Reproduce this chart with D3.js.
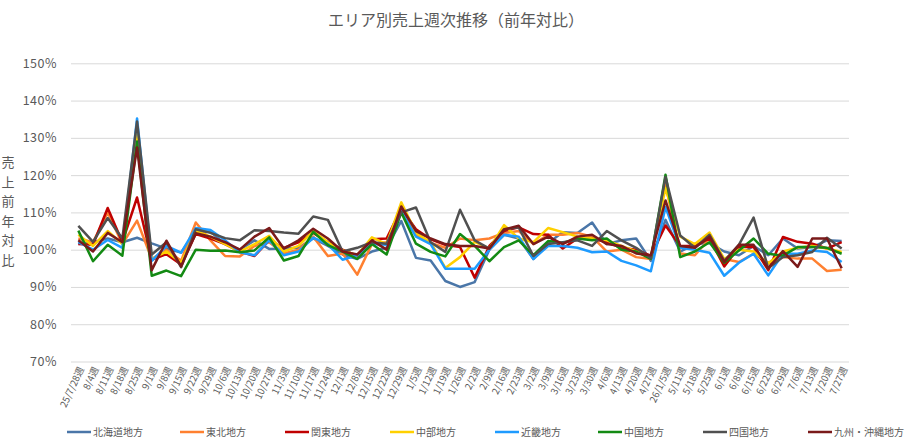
<!DOCTYPE html>
<html>
<head>
<meta charset="utf-8">
<script src="https://cdnjs.cloudflare.com/ajax/libs/d3/7.8.5/d3.min.js"></script>
<style>
  body { margin: 0; background: #fff; }
  text { font-family: "Noto Sans CJK JP", "Noto Sans", sans-serif; fill: #595959; }
</style>
</head>
<body>
<div class="first"></div>
<script>
// week labels along the x axis
const weeks = ['25/7/28週', '8/4週', '8/11週', '8/18週', '8/25週', '9/1週', '9/8週', '9/15週', '9/22週', '9/29週',
  '10/6週', '10/13週', '10/20週', '10/27週', '11/3週', '11/10週', '11/17週', '11/24週', '12/1週', '12/8週',
  '12/15週', '12/22週', '12/29週', '1/5週', '1/12週', '1/19週', '1/26週', '2/2週', '2/9週', '2/16週',
  '2/23週', '3/2週', '3/9週', '3/16週', '3/23週', '3/30週', '4/6週', '4/13週', '4/20週', '4/27週',
  '26/1/5週', '5/11週', '5/18週', '5/25週', '6/1週', '6/8週', '6/15週', '6/22週', '6/29週', '7/6週',
  '7/13週', '7/20週', '7/27週'];

// yoy ratio in % for each area
const hokkaido = [101.5, 102, 103, 102, 103.2, 101.7, 100.3, 99.2, 105, 104.8, 101.5, 100, 102.5, 100.2, 100.3, 100.5, 103, 101, 98.7, 97.5,
  99.5, 100.5, 107.7, 97.8, 97.1, 91.6, 90, 91.3, 100, 104, 103, 97.5, 101.8, 104.7, 104.5, 107.3, 101.5, 102.5, 103, 97,
  108, 99.5, 101.5, 101.8, 99.5, 98.5, 101, 98.5, 103, 100.3, 100.7, 102.5, 102.3];
const tohoku = [103, 102, 110, 101.5, 107.8, 97.5, 100, 97, 107.3, 102.5, 98.3, 98.2, 101, 102, 99, 100, 103.5, 98.3, 99, 93.3,
  101.5, 102, 110.5, 104, 101.8, 100.5, 103, 102.5, 103, 104.5, 105, 101.5, 104, 104, 104.5, 103.5, 99.5, 100, 98, 97.5,
  117.5, 99, 98.5, 103, 97.5, 96.7, 98.9, 96.5, 98, 97.6, 97.6, 94.3, 94.6];
const kanto = [101.5, 101.3, 111.2, 102, 114, 97.3, 98.8, 96, 104.2, 103, 101.5, 99.5, 98.3, 102.5, 100.5, 102, 104.5, 102, 100, 98.3,
  102.8, 103, 111, 105.5, 102.8, 101.3, 100.7, 92.5, 101, 105, 106, 104.2, 104, 100.3, 103, 103, 102, 100.5, 100, 98.3,
  106.5, 101, 101, 103, 95.5, 100.7, 100.7, 94.5, 103.4, 102.1, 101.6, 100.3, 102];
const chubu = [104, 101, 105, 101.5, 131, 97.5, 99.5, 96.5, 105, 103.5, 101.5, 99.5, 101.5, 103.7, 99.5, 101, 105, 102, 99.8, 98.5,
  103.3, 101.5, 112.7, 104.5, 102, 95.1, 98, 102.1, 100.3, 106.6, 103, 102, 105.8, 104.7, 103.5, 103, 102.5, 101, 99.5, 98,
  116.5, 103.5, 101.5, 104.6, 97.5, 100, 99.5, 96.3, 99.5, 100.5, 101, 100.3, 99.4];
const kinki = [102, 100, 102.6, 100.5, 135.2, 97, 101, 99.2, 105.8, 105.3, 102.5, 99.3, 98.5, 102.5, 98.5, 99.5, 103.2, 101.5, 97.3, 98.5,
  101.5, 101.3, 110.2, 103.5, 101.5, 94.9, 94.9, 94.9, 100, 104, 103.5, 97.5, 101, 101, 100.5, 99.3, 99.5, 97, 95.8, 94.2,
  111.4, 100.5, 100, 99.2, 93, 96.5, 98.9, 93.1, 98.9, 98.9, 99.8, 99.4, 96.7];
const chugoku = [105.1, 96.9, 101.3, 98.4, 129, 93, 94.4, 92.9, 100, 99.7, 99.8, 99.3, 99.8, 103.3, 97.1, 98.3, 104.8, 101.2, 99.5, 97.5,
  101.5, 98.7, 110, 101.6, 99.4, 98.2, 104.2, 101, 96.9, 100.7, 102.5, 98.5, 102.3, 101.8, 103, 102.5, 103, 100, 99.5, 97.5,
  120.1, 98, 99.5, 102, 96.5, 99.8, 103, 98.9, 98.4, 100.7, 100.7, 100.5, 98.9];
const shikoku = [106.4, 102.1, 108.5, 103, 134.4, 98.7, 102, 95.3, 105.5, 104.5, 103.1, 102.5, 105.2, 105, 104.6, 104.3, 108.9, 108, 99.5, 100.5,
  102, 101.6, 110, 111.3, 102, 99.4, 110.7, 102.5, 100.3, 105.5, 106, 98.3, 101.5, 102, 102.5, 101, 105, 102.5, 100.5, 97.7,
  119.5, 103.8, 100.5, 104, 97, 101.3, 108.6, 95, 98, 98.5, 99.4, 103.2, 100.3];
const kyushu = [102.5, 99.5, 104.5, 102, 127.4, 94.5, 102.4, 95.5, 104.4, 103.5, 102, 100, 103.5, 105.8, 100.3, 102.5, 105.6, 103, 99.5, 98.7,
  102.5, 100, 111.6, 105, 103, 101.5, 101, 101, 100.3, 105.4, 106.4, 101.5, 103.5, 101.5, 103.5, 104, 101.5, 101, 99, 98.5,
  113.2, 101, 100.5, 103.5, 96.7, 101.3, 101.3, 95, 99.6, 95.4, 103, 103, 95];

const areaNames = ['北海道地方', '東北地方', '関東地方', '中部地方', '近畿地方', '中国地方', '四国地方', '九州・沖縄地方'];
const areaValues = [hokkaido, tohoku, kanto, chubu, kinki, chugoku, shikoku, kyushu];
const yTicks = [70, 80, 90, 100, 110, 120, 130, 140, 150];

document.addEventListener('DOMContentLoaded', () => {
  myVis();
});

function myVis() {
  const width = 910;
  const height = 441;
  const colorRange = ['#4a76a8', '#ff8030', '#c00000', '#ffd000', '#1e9bff', '#138a13', '#505050', '#7a1a1a'];

  const svg = d3.select('.first').append('svg')
    .attr('width', width).attr('height', height);

  const x = d3.scaleBand().domain(weeks).range([71, 849]);
  const y = d3.scaleLinear().domain([70, 150]).range([361.5, 63.3]);
  const color = d3.scaleOrdinal().domain(areaNames).range(colorRange);

  // title
  svg.append('text')
    .attr('x', 456).attr('y', 26)
    .attr('text-anchor', 'middle')
    .attr('font-size', 16)
    .text('エリア別売上週次推移（前年対比）');

  // gridlines + y labels
  const yAxis = svg.append('g')
    .attr('transform', 'translate(71,0)')
    .call(d3.axisLeft(y).tickValues(yTicks).tickSize(-778).tickPadding(14).tickFormat(d => d + '%'));
  yAxis.select('.domain').remove();
  yAxis.selectAll('line').attr('stroke', '#d9d9d9').attr('stroke-width', 1);
  yAxis.selectAll('text')
    .attr('font-size', 12.5)
    .attr('font-family', '"Noto Sans CJK JP", sans-serif')
    .attr('fill', '#595959')
    .style('letter-spacing', '0.5px');

  // y title, stacked vertically
  svg.append('g').selectAll('text')
    .data('売上前年対比'.split(''))
    .enter()
    .append('text')
    .attr('x', 8)
    .attr('y', (d, i) => 167 + i * 19.6)
    .attr('text-anchor', 'middle')
    .attr('font-size', 13)
    .text(d => d);

  // x axis labels
  const xAxis = svg.append('g')
    .attr('transform', 'translate(0,361.5)')
    .call(d3.axisBottom(x).tickSize(0).tickPadding(0));
  xAxis.select('.domain').remove();
  xAxis.selectAll('text')
    .attr('font-size', 9.5)
    .attr('fill', '#6b6b6b')
    .attr('text-anchor', 'end')
    .attr('transform', 'translate(3,6) rotate(-65)')
    .attr('dy', '0.35em');

  // lines
  const line = d3.line()
    .x((d, i) => x(weeks[i]) + x.bandwidth() / 2)
    .y(d => y(d));

  svg.append('g').selectAll('path')
    .data(areaValues)
    .enter()
    .append('path')
    .attr('fill', 'none')
    .attr('stroke', (d, i) => color(areaNames[i]))
    .attr('stroke-width', 2.5)
    .attr('stroke-linejoin', 'round')
    .attr('d', d => line(d));

  // legend
  const legendX = [67, 180, 285, 390, 495, 598, 703, 808];
  const legend = svg.append('g').selectAll('g')
    .data(areaNames)
    .enter()
    .append('g')
    .attr('transform', (d, i) => `translate(${legendX[i]},432)`);
  legend.append('line')
    .attr('x1', 0).attr('x2', 24)
    .attr('stroke', d => color(d))
    .attr('stroke-width', 2.5);
  legend.append('text')
    .attr('x', 26)
    .attr('dy', '0.35em')
    .attr('font-size', 10)
    .text(d => d);
}
</script>
</body>
</html>
